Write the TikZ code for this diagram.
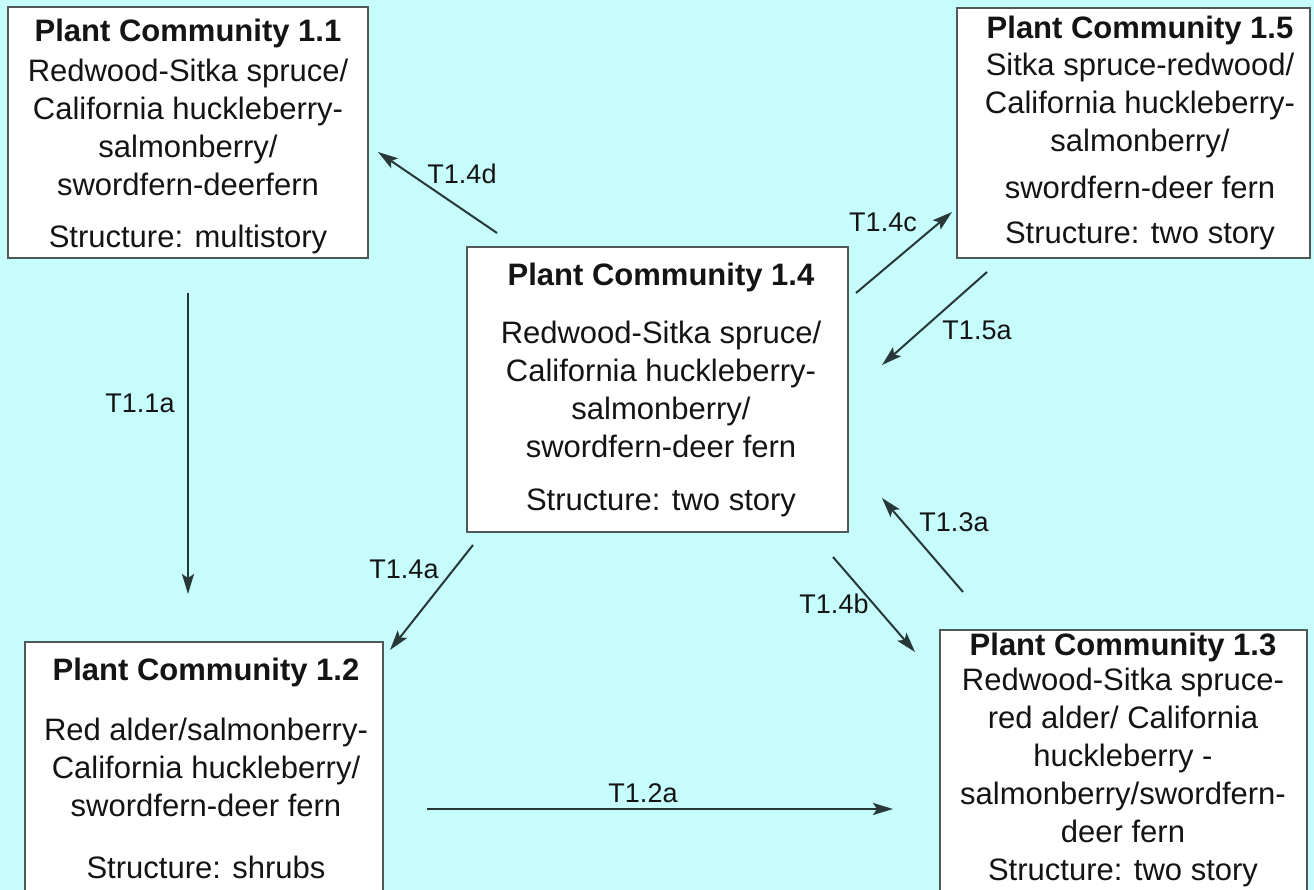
\documentclass[tikz,border=0pt]{standalone}
\usepackage{fontspec}
\setmainfont{Liberation Sans}
\usetikzlibrary{arrows.meta}
\definecolor{bg}{RGB}{198,252,252}
\definecolor{boxline}{RGB}{80,88,88}
\definecolor{arr}{RGB}{40,56,56}
\definecolor{ink}{RGB}{20,20,20}
\begin{document}
\begin{tikzpicture}[x=1pt,y=-1pt,
  pcbox/.style={draw=boxline, line width=2pt, fill=white, rectangle, inner sep=0pt},
  pctext/.style={anchor=north, align=center, inner sep=0pt, text=ink, font=\fontsize{31}{38}\selectfont},
  tlabel/.style={inner sep=0pt, text=ink, font=\fontsize{27}{32}\selectfont},
  trans/.style={draw=arr, line width=2pt, -{Stealth[length=20pt,width=12pt,inset=4pt]}}]
\fill[bg] (0,0) rectangle (1314,890);
\useasboundingbox (0,0) rectangle (1314,890);
\clip (0,0) rectangle (1314,890);

% boxes
\node[pcbox, minimum width=360pt, minimum height=251pt] (b11) at (188,132.5) {};
\node[pcbox, minimum width=353pt, minimum height=250pt] (b15) at (1133.5,133) {};
\node[pcbox, minimum width=381pt, minimum height=285pt] (b14) at (657.5,389.5) {};
\node[pcbox, minimum width=358pt, minimum height=260pt] (b12) at (204,772) {};
\node[pcbox, minimum width=367pt, minimum height=272pt] (b13) at (1123.5,766) {};

% texts
\node[pctext] (t11) at (188,18.5) {\textbf{Plant Community 1.1}\\[2pt]
  Redwood-Sitka spruce/\\ California huckleberry-\\ salmonberry/\\ swordfern-deerfern\\[14pt]
  Structure: multistory};
\node[pctext] (t15) at (1140,15.5) {\textbf{Plant Community 1.5}\\[-1pt]
  Sitka spruce-redwood/\\ California huckleberry-\\ salmonberry/\\[9pt] swordfern-deer fern\\[7pt]
  Structure: two story};
\node[pctext] (t14) at (661,262.5) {\textbf{Plant Community 1.4}\\[20pt]
  Redwood-Sitka spruce/\\ California huckleberry-\\ salmonberry/\\ swordfern-deer fern\\[15pt]
  Structure: two story};
\node[pctext] (t12) at (206,657.5) {\textbf{Plant Community 1.2}\\[22pt]
  Red alder/salmonberry-\\ California huckleberry/\\ swordfern-deer fern\\[24pt]
  Structure: shrubs};
\node[pctext] (t13) at (1123,632.5) {\textbf{Plant Community 1.3}\\[-3pt]
  Redwood-Sitka spruce-\\ red alder/ California\\ huckleberry -\\ salmonberry/swordfern-\\ deer fern\\
  Structure: two story};

% connector end points
\coordinate (a11s) at (188,293);  \coordinate (a11e) at (188,594);
\coordinate (a4ds) at (497,233);  \coordinate (a4de) at (378,152);
\coordinate (a4cs) at (856,293);  \coordinate (a4ce) at (952,212);
\coordinate (a5as) at (987,272);  \coordinate (a5ae) at (882,365);
\coordinate (a3as) at (963,592);  \coordinate (a3ae) at (882,498);
\coordinate (a4as) at (473,545);  \coordinate (a4ae) at (390,650);
\coordinate (a4bs) at (833,557);  \coordinate (a4be) at (915,652);
\coordinate (a2as) at (427,809);  \coordinate (a2ae) at (893,809);

\draw[trans] (a11s) -- (a11e);
\draw[trans] (a4ds) -- (a4de);
\draw[trans] (a4cs) -- (a4ce);
\draw[trans] (a5as) -- (a5ae);
\draw[trans] (a3as) -- (a3ae);
\draw[trans] (a4as) -- (a4ae);
\draw[trans] (a4bs) -- (a4be);
\draw[trans] (a2as) -- (a2ae);

% labels
\node[tlabel] (l11) at (140,403) {T1.1a};
\node[tlabel] (l4d) at (462,174) {T1.4d};
\node[tlabel] (l4c) at (883,222) {T1.4c};
\node[tlabel] (l5a) at (977,330) {T1.5a};
\node[tlabel] (l3a) at (954,522) {T1.3a};
\node[tlabel] (l4a) at (404,569) {T1.4a};
\node[tlabel] (l4b) at (834,604) {T1.4b};
\node[tlabel] (l2a) at (643,793) {T1.2a};
\end{tikzpicture}
\end{document}
